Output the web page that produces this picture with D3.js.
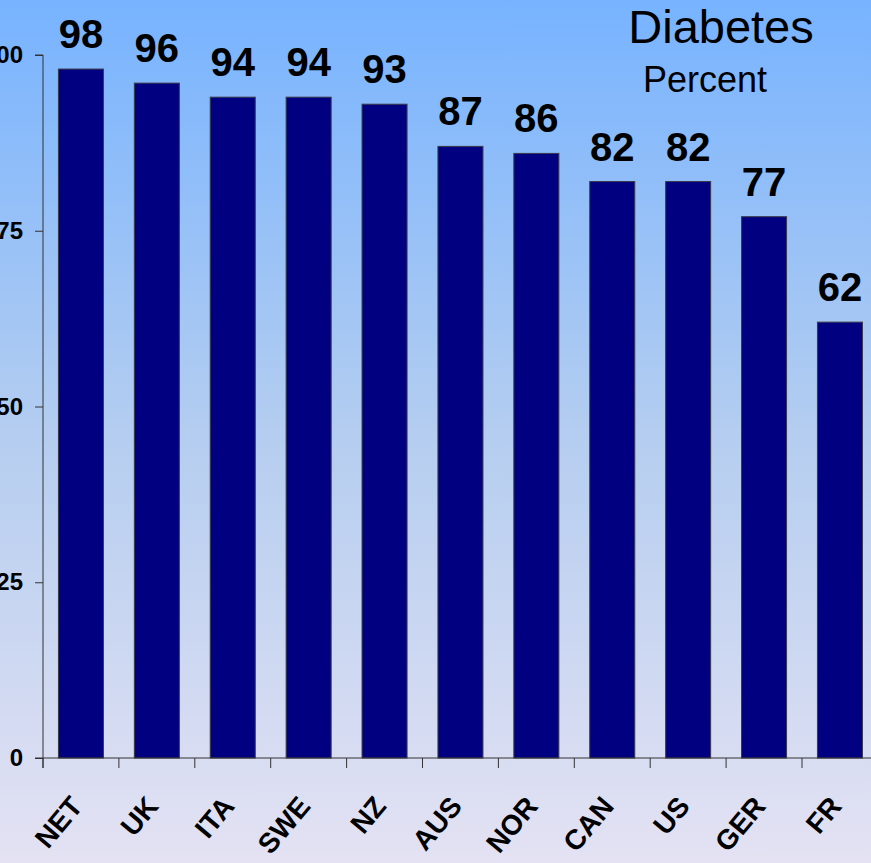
<!DOCTYPE html>
<html><head><meta charset="utf-8">
<script src="https://cdn.jsdelivr.net/npm/d3@7"></script>
<style>html,body{margin:0;padding:0;overflow:hidden;}svg{display:block;}</style>
</head><body>
<svg id="c" width="871" height="863"></svg>
<script>
const categories = ["NET","UK","ITA","SWE","NZ","AUS","NOR","CAN","US","GER","FR"];
const values = [98,96,94,94,93,87,86,82,82,77,62];
const yTicks = [0,25,50,75,100];
const yTickLabels = ["0","25","50","75","100"];
const title = "Diabetes";
const subtitle = "Percent";

const W = 871, H = 863;
const FONT = "Arial, 'Liberation Sans', sans-serif";
const svg = d3.select("#c");
const defs = svg.append("defs");
const g = defs.append("linearGradient").attr("id","bg").attr("x1",0).attr("y1",0).attr("x2",0).attr("y2",1);
g.append("stop").attr("offset","0%").attr("stop-color","#77b3ff");
g.append("stop").attr("offset","50%").attr("stop-color","#b4cdf0");
g.append("stop").attr("offset","100%").attr("stop-color","#e4e2f3");
svg.append("rect").attr("width",W).attr("height",H).attr("fill","url(#bg)");

const x0 = 43, step = 75.9;
const x = d3.scaleBand().domain(categories).range([x0, x0 + step*categories.length]).paddingInner(0.407).paddingOuter(0.2035);
const y = d3.scaleLinear().domain([0,100]).range([758,55]);

// bars
svg.append("g").selectAll("rect").data(values).join("rect")
  .attr("x",(d,i)=>x(categories[i]))
  .attr("y",d=>y(d))
  .attr("width",x.bandwidth())
  .attr("height",d=>y(0)-y(d))
  .attr("fill","#000080")
  .attr("stroke","#3a3a4a").attr("stroke-width",1);

// y axis
const yAxis = d3.axisLeft(y).tickValues(yTicks).tickSize(8).tickFormat((d,i)=>yTickLabels[i]).tickPadding(12);
const ya = svg.append("g").attr("transform",`translate(${x0},0)`).call(yAxis);
ya.select(".domain").attr("stroke","#333").attr("d",`M-8,55H0V768`);
ya.selectAll(".tick line").attr("stroke","#333");
ya.selectAll(".tick text").attr("font-family",FONT).attr("font-weight","bold").attr("font-size",24).attr("fill","#000");

// x axis
const xEdge = d3.scaleLinear().domain([0,categories.length]).range([x0, x0+step*categories.length]);
const xa = svg.append("g");
xa.append("line").attr("x1",x0-8).attr("x2",x0+step*categories.length).attr("y1",758).attr("y2",758).attr("stroke","#333");
xa.selectAll("line.t").data(d3.range(categories.length+1)).join("line").attr("class","t")
  .attr("x1",d=>xEdge(d)).attr("x2",d=>xEdge(d)).attr("y1",758).attr("y2",768).attr("stroke","#333");
xa.selectAll("text").data(categories).join("text")
  .attr("transform",d=>`translate(${x(d)+x.bandwidth()/2+3},${807}) rotate(-50)`)
  .attr("text-anchor","end")
  .attr("font-family",FONT).attr("font-weight","bold").attr("font-size",28).attr("fill","#000")
  .text(d=>d);

// value labels
svg.append("g").selectAll("text").data(values).join("text")
  .attr("x",(d,i)=>x(categories[i])+x.bandwidth()/2)
  .attr("y",d=>y(d)-21)
  .attr("text-anchor","middle")
  .attr("font-family",FONT).attr("font-weight","bold").attr("font-size",40).attr("fill","#000")
  .text(d=>d);

svg.append("text").attr("x",721).attr("y",43).attr("text-anchor","middle")
  .attr("font-family",FONT).attr("font-size",47).attr("fill","#000").text(title);
svg.append("text").attr("x",705).attr("y",92).attr("text-anchor","middle")
  .attr("font-family",FONT).attr("font-size",36).attr("fill","#000").text(subtitle);
</script>
</body></html>
